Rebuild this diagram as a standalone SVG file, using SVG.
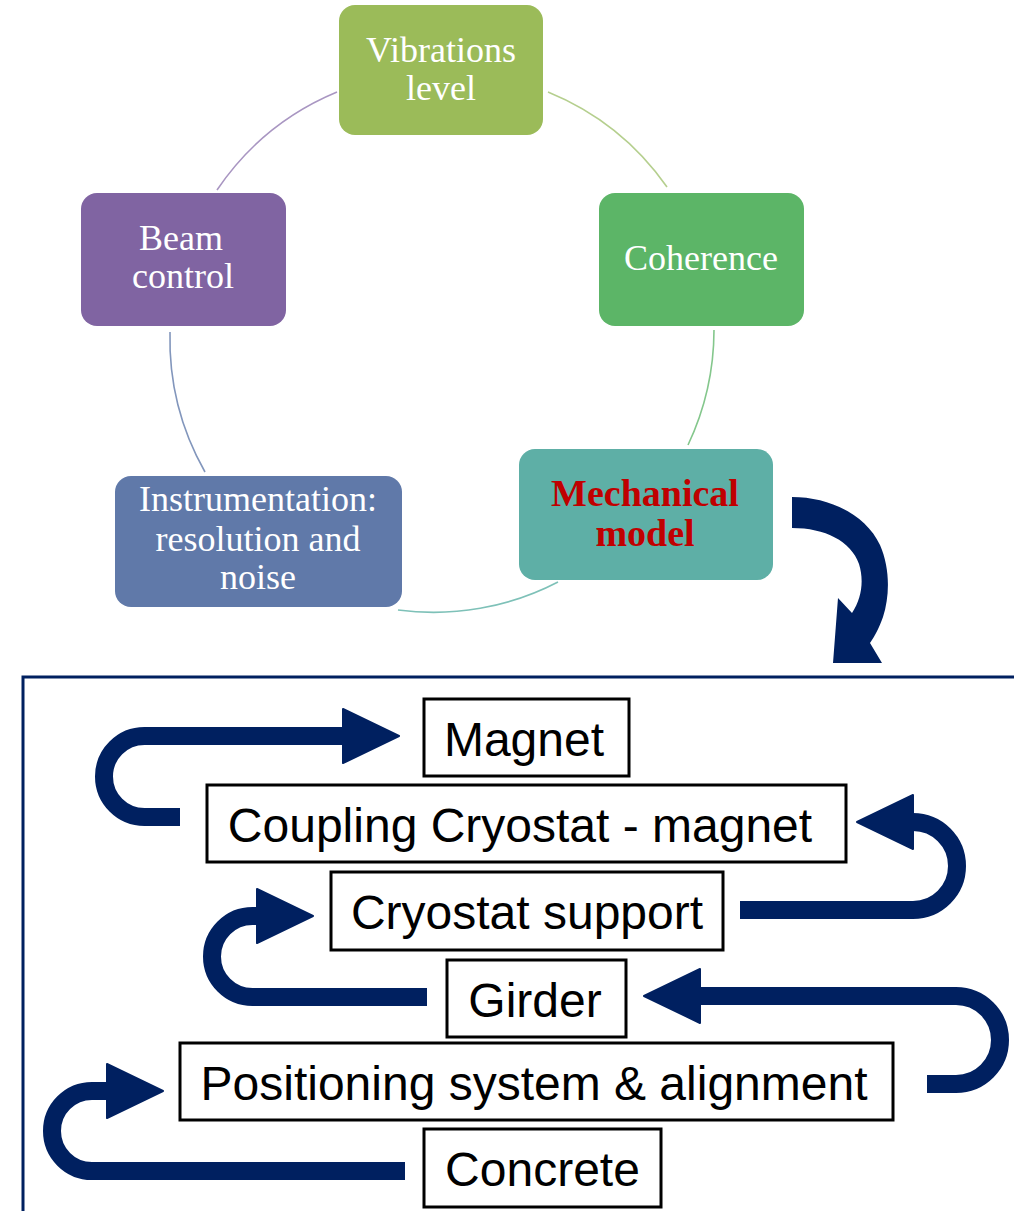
<svg xmlns="http://www.w3.org/2000/svg" width="1014" height="1211" viewBox="0 0 1014 1211">
<style>
.cyc{font-family:"Liberation Serif","Times New Roman",serif;font-size:36px;fill:#ffffff;text-anchor:middle}
.mech{font-family:"Liberation Serif","Times New Roman",serif;font-size:38px;font-weight:bold;fill:#C00000;text-anchor:middle}
.box{fill:#ffffff;stroke:#000000;stroke-width:3}
.lbl{font-family:"Liberation Sans",Arial,sans-serif;font-size:48px;fill:#000000;text-anchor:middle}
.arc{fill:none;stroke-width:1.6}
.flow{fill:none;stroke:#002060;stroke-width:18;stroke-linecap:butt;marker-end:url(#ah)}
</style>
<defs>
<marker id="ah" markerUnits="userSpaceOnUse" markerWidth="60" markerHeight="60" refX="0" refY="27" orient="auto" overflow="visible">
<path d="M0,0 L56,27 L0,54 Z" fill="#002060" stroke="#002060" stroke-width="2" stroke-linejoin="round"/>
</marker>
</defs>
<rect width="1014" height="1211" fill="#ffffff"/>
<g id="connectors">
<path class="arc" stroke="#B5CF8E" d="M548,92 A270,270 0 0 1 667,187"/>
<path class="arc" stroke="#84C78C" d="M714,330 A270,270 0 0 1 688,445"/>
<path class="arc" stroke="#7EC1B8" d="M558,582 A270,270 0 0 1 398,610"/>
<path class="arc" stroke="#8296BC" d="M205,472 A270,270 0 0 1 170,332"/>
<path class="arc" stroke="#A996C2" d="M217,190 A270,270 0 0 1 337,92"/>
<path id="bigArrow" fill="#002060" d="M792,497 C830,497 866,515 880,545 C890,568 890,595 883,617 C879,628 875,636 870,643 L882,663 L833,663 L838,598 L852,613 C862,598 864,580 859,564 C851,541 825,528 792,528 Z"/>
<path id="frame" fill="none" stroke="#002060" stroke-width="3" d="M23,1211 V677 H1014"/>
<path class="flow" d="M180,817 H144.5 A40.5,40.5 0 0 1 144.5,736 H343"/>
<path class="flow" d="M740,910 H913 A44,44 0 0 0 913,822"/>
<path class="flow" d="M427,997 H252.5 A40.5,40.5 0 0 1 252.5,916 H257"/>
<path class="flow" d="M927,1084 H956 A44,44 0 0 0 956,996 H700"/>
<path class="flow" d="M405,1171 H92 A40,40 0 0 1 92,1091 H107"/>
</g>
<g id="vibrations">
<rect x="339" y="5" width="204" height="130" rx="16" fill="#9BBB59"/>
<text class="cyc" x="441" y="62">Vibrations</text>
<text class="cyc" x="441" y="100">level</text>
</g>
<g id="coherence">
<rect x="599" y="193" width="205" height="133" rx="16" fill="#5CB567"/>
<text class="cyc" x="701" y="270">Coherence</text>
</g>
<g id="mechanical">
<rect x="519" y="449" width="254" height="131" rx="16" fill="#5EAFA6"/>
<text class="mech" x="645" y="506">Mechanical</text>
<text class="mech" x="645" y="546">model</text>
</g>
<g id="instrumentation">
<rect x="115" y="476" width="287" height="131" rx="16" fill="#6079A9"/>
<text class="cyc" x="258" y="511">Instrumentation:</text>
<text class="cyc" x="258" y="551">resolution and</text>
<text class="cyc" x="258" y="589">noise</text>
</g>
<g id="beam">
<rect x="81" y="193" width="205" height="133" rx="16" fill="#8064A2"/>
<text class="cyc" x="181" y="250">Beam</text>
<text class="cyc" x="183" y="288">control</text>
</g>
<g id="magnet">
<rect class="box" x="424" y="699" width="205" height="77"/>
<text class="lbl" x="524" y="756">Magnet</text>
</g>
<g id="coupling">
<rect class="box" x="207" y="785" width="639" height="77"/>
<text class="lbl" x="520" y="842">Coupling Cryostat - magnet</text>
</g>
<g id="cryostat">
<rect class="box" x="331" y="872" width="392" height="78"/>
<text class="lbl" x="527" y="929">Cryostat support</text>
</g>
<g id="girder">
<rect class="box" x="447" y="960" width="179" height="77"/>
<text class="lbl" x="535" y="1017">Girder</text>
</g>
<g id="positioning">
<rect class="box" x="180" y="1043" width="713" height="77"/>
<text class="lbl" x="534" y="1100">Positioning system &amp; alignment</text>
</g>
<g id="concrete">
<rect class="box" x="424" y="1129" width="237" height="78"/>
<text class="lbl" x="542.5" y="1186">Concrete</text>
</g>
</svg>
